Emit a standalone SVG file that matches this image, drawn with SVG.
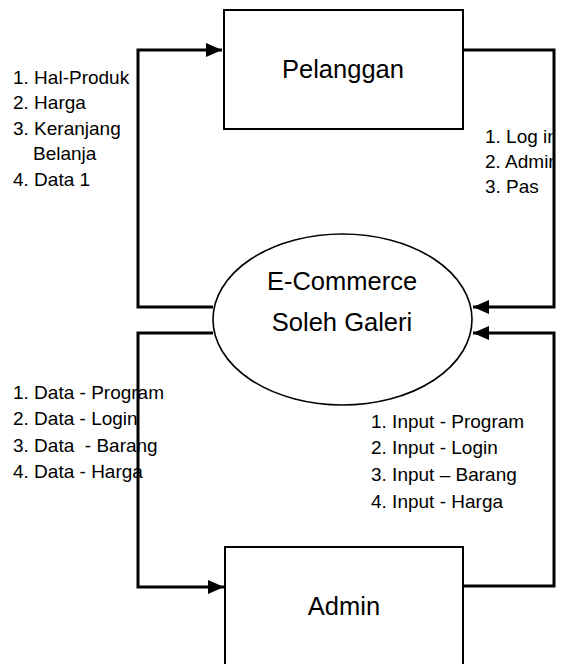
<svg xmlns="http://www.w3.org/2000/svg" width="565" height="664" viewBox="0 0 565 664">
<style>
.box{fill:#fff;stroke:#000;stroke-width:2}
.proc{fill:#fff;stroke:#000;stroke-width:1.6}
.big{font-family:"Liberation Sans",Arial,sans-serif;font-size:25.5px;fill:#000;text-anchor:middle}
.lbl{font-family:"Liberation Sans",Arial,sans-serif;font-size:19px;fill:#000}
.con{fill:none;stroke:#000;stroke-width:3;stroke-linejoin:miter}
</style>
<defs>
<marker id="ah" viewBox="0 0 16 14" refX="16" refY="7" markerWidth="16" markerHeight="14" markerUnits="userSpaceOnUse" orient="auto">
<path d="M0,0 L16,7 L0,14 Z" fill="#000"/>
</marker>
<clipPath id="clipR"><rect x="0" y="0" width="554" height="664"/></clipPath>
</defs>
<g id="pelanggan">
<rect class="box" x="224" y="10" width="239" height="119"/>
<text class="big" x="343" y="78">Pelanggan</text>
</g>
<g id="ecommerce">
<ellipse class="proc" cx="342.5" cy="319.5" rx="129.5" ry="85.5"/>
<text class="big" x="342" y="290">E-Commerce</text>
<text class="big" x="342" y="331">Soleh Galeri</text>
</g>
<g id="admin">
<rect class="box" x="225" y="547" width="238" height="130"/>
<text class="big" x="344" y="615">Admin</text>
</g>
<g id="connectors">
<path class="con" d="M213,307 H138 V50 H222" marker-end="url(#ah)"/>
<path class="con" d="M463,50 H554 V307 H473" marker-end="url(#ah)"/>
<path class="con" d="M213,333 H138 V587 H224" marker-end="url(#ah)"/>
<path class="con" d="M463,586 H554 V333 H473" marker-end="url(#ah)"/>
</g>
<g id="labels">
<text class="lbl" x="13" y="84">1. Hal-Produk</text>
<text class="lbl" x="13" y="109">2. Harga</text>
<text class="lbl" x="13" y="135">3. Keranjang</text>
<text class="lbl" x="33" y="160">Belanja</text>
<text class="lbl" x="13" y="186">4. Data 1</text>
<g clip-path="url(#clipR)">
<text class="lbl" x="485" y="143">1. Log in</text>
<text class="lbl" x="485" y="168">2. Admin</text>
<text class="lbl" x="485" y="193">3. Pas</text>
</g>
<text class="lbl" x="13" y="399">1. Data - Program</text>
<text class="lbl" x="13" y="425">2. Data - Login</text>
<text class="lbl" x="13" y="452" xml:space="preserve">3. Data  - Barang</text>
<text class="lbl" x="13" y="478">4. Data - Harga</text>
<text class="lbl" x="371" y="428">1. Input - Program</text>
<text class="lbl" x="371" y="454">2. Input - Login</text>
<text class="lbl" x="371" y="481">3. Input – Barang</text>
<text class="lbl" x="371" y="508">4. Input - Harga</text>
</g>
</svg>
